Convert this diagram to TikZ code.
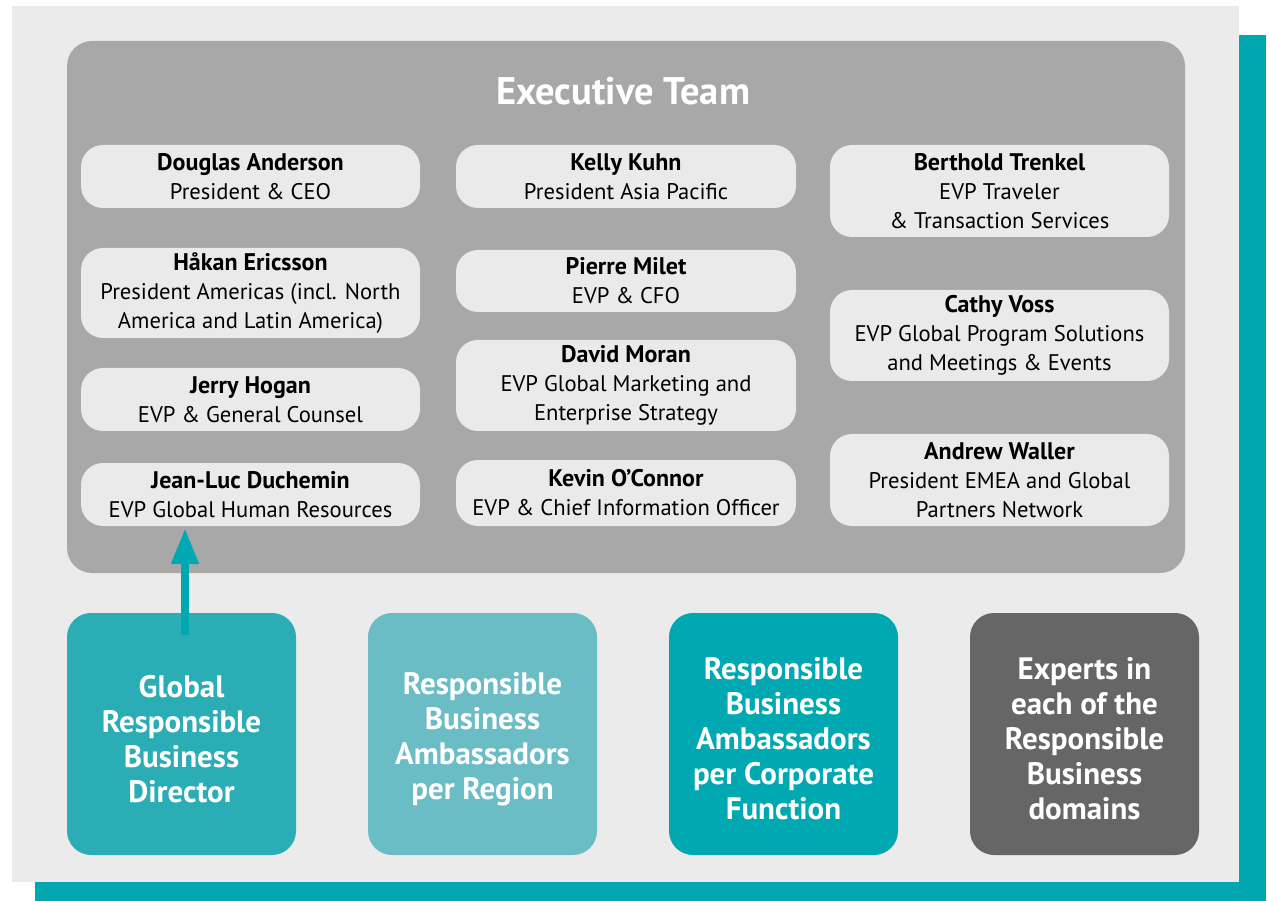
\documentclass[tikz,border=0pt]{standalone}
\usepackage{fontspec}
\setmainfont{PT Sans}
\usetikzlibrary{arrows.meta}
\definecolor{panelgray}{HTML}{EBEBEB}
\definecolor{shadowteal}{HTML}{00A7B1}
\definecolor{teamgray}{HTML}{A8A8A8}
\definecolor{cardgray}{HTML}{EAEAEA}
\definecolor{directorteal}{HTML}{2BADB6}
\definecolor{regionteal}{HTML}{6BBDC5}
\definecolor{functionteal}{HTML}{00A8B1}
\definecolor{expertgray}{HTML}{666666}

\newcommand{\cardname}[1]{{\fontsize{24}{29}\selectfont\bfseries #1}}

\tikzset{
  card/.style={fill=cardgray, rounded corners=22pt, minimum width=339pt, align=center,
    font=\fontsize{22.6}{29}\selectfont, inner sep=0pt},
  unit/.style={rounded corners=24pt, minimum width=229pt, minimum height=242pt, inner sep=0pt},
  unittext/.style={align=center, text=white, font=\fontsize{31}{35}\selectfont\bfseries, inner sep=0pt}
}

\begin{document}
\begin{tikzpicture}[x=1pt,y=-1pt]
  \useasboundingbox (0,0) rectangle (1270,901);
  \fill[shadowteal] (35,35) rectangle (1266,901);
  \fill[panelgray] (12,6) rectangle (1239,882);
  \fill[teamgray, rounded corners=25pt] (67,41) rectangle (1185,573);
  \node[text=white, font=\fontsize{38.5}{42}\selectfont\bfseries] (title) at (623,91) {Executive Team};

  % left column
  \node[card, minimum height=63pt] (anderson) at (250.5,176.5) {\cardname{Douglas Anderson}\\President \& CEO};
  \node[card, minimum height=90pt] (ericsson) at (250.5,293) {\cardname{Håkan Ericsson}\\President Americas (incl. North\\America and Latin America)};
  \node[card, minimum height=63pt] (hogan) at (250.5,399.5) {\cardname{Jerry Hogan}\\EVP \& General Counsel};
  \node[card, minimum height=63pt] (duchemin) at (250.5,494.5) {\cardname{Jean-Luc Duchemin}\\EVP Global Human Resources};

  % middle column
  \node[card, minimum width=340pt, minimum height=63pt] (kuhn) at (626,176.5) {\cardname{Kelly Kuhn}\\President Asia Pacific};
  \node[card, minimum width=340pt, minimum height=62pt] (milet) at (626,281) {\cardname{Pierre Milet}\\EVP \& CFO};
  \node[card, minimum width=340pt, minimum height=91pt] (moran) at (626,385.5) {\cardname{David Moran}\\EVP Global Marketing and\\Enterprise Strategy};
  \node[card, minimum width=340pt, minimum height=66pt] (oconnor) at (626,493) {\cardname{Kevin O’Connor}\\EVP \& Chief Information Officer};

  % right column
  \node[card, minimum height=92pt] (trenkel) at (999.5,191) {\cardname{Berthold Trenkel}\\EVP Traveler\\\& Transaction Services};
  \node[card, minimum height=91pt] (voss) at (999.5,335.5) {\cardname{Cathy Voss}\\EVP Global Program Solutions\\and Meetings \& Events};
  \node[card, minimum height=92pt] (waller) at (999.5,480) {\cardname{Andrew Waller}\\President EMEA and Global\\Partners Network};

  % responsible business units
  \node[unit, fill=directorteal] (director) at (181.5,734) {};
  \node[unit, fill=regionteal] (region) at (482.5,734) {};
  \node[unit, fill=functionteal] (function) at (783.5,734) {};
  \node[unit, fill=expertgray] (experts) at (1084.5,734) {};
  \node[unittext] (directortext) at ([yshift=-5pt]director.center) {Global\\Responsible\\Business\\Director};
  \node[unittext] (regiontext) at ([yshift=-5pt]region.center) {Responsible\\Business\\Ambassadors\\per Region};
  \node[unittext] (functiontext) at ([yshift=-5pt]function.center) {Responsible\\Business\\Ambassadors\\per Corporate\\Function};
  \node[unittext] (expertstext) at ([yshift=-5pt]experts.center) {Experts in\\each of the\\Responsible\\Business\\domains};

  \draw[functionteal, line width=8pt, -{Triangle[width=26pt,length=36pt]}]
    ([xshift=3.5pt,yshift=-22pt]director.north) -- ([xshift=-65.5pt,yshift=-2pt]duchemin.south);
\end{tikzpicture}
\end{document}
